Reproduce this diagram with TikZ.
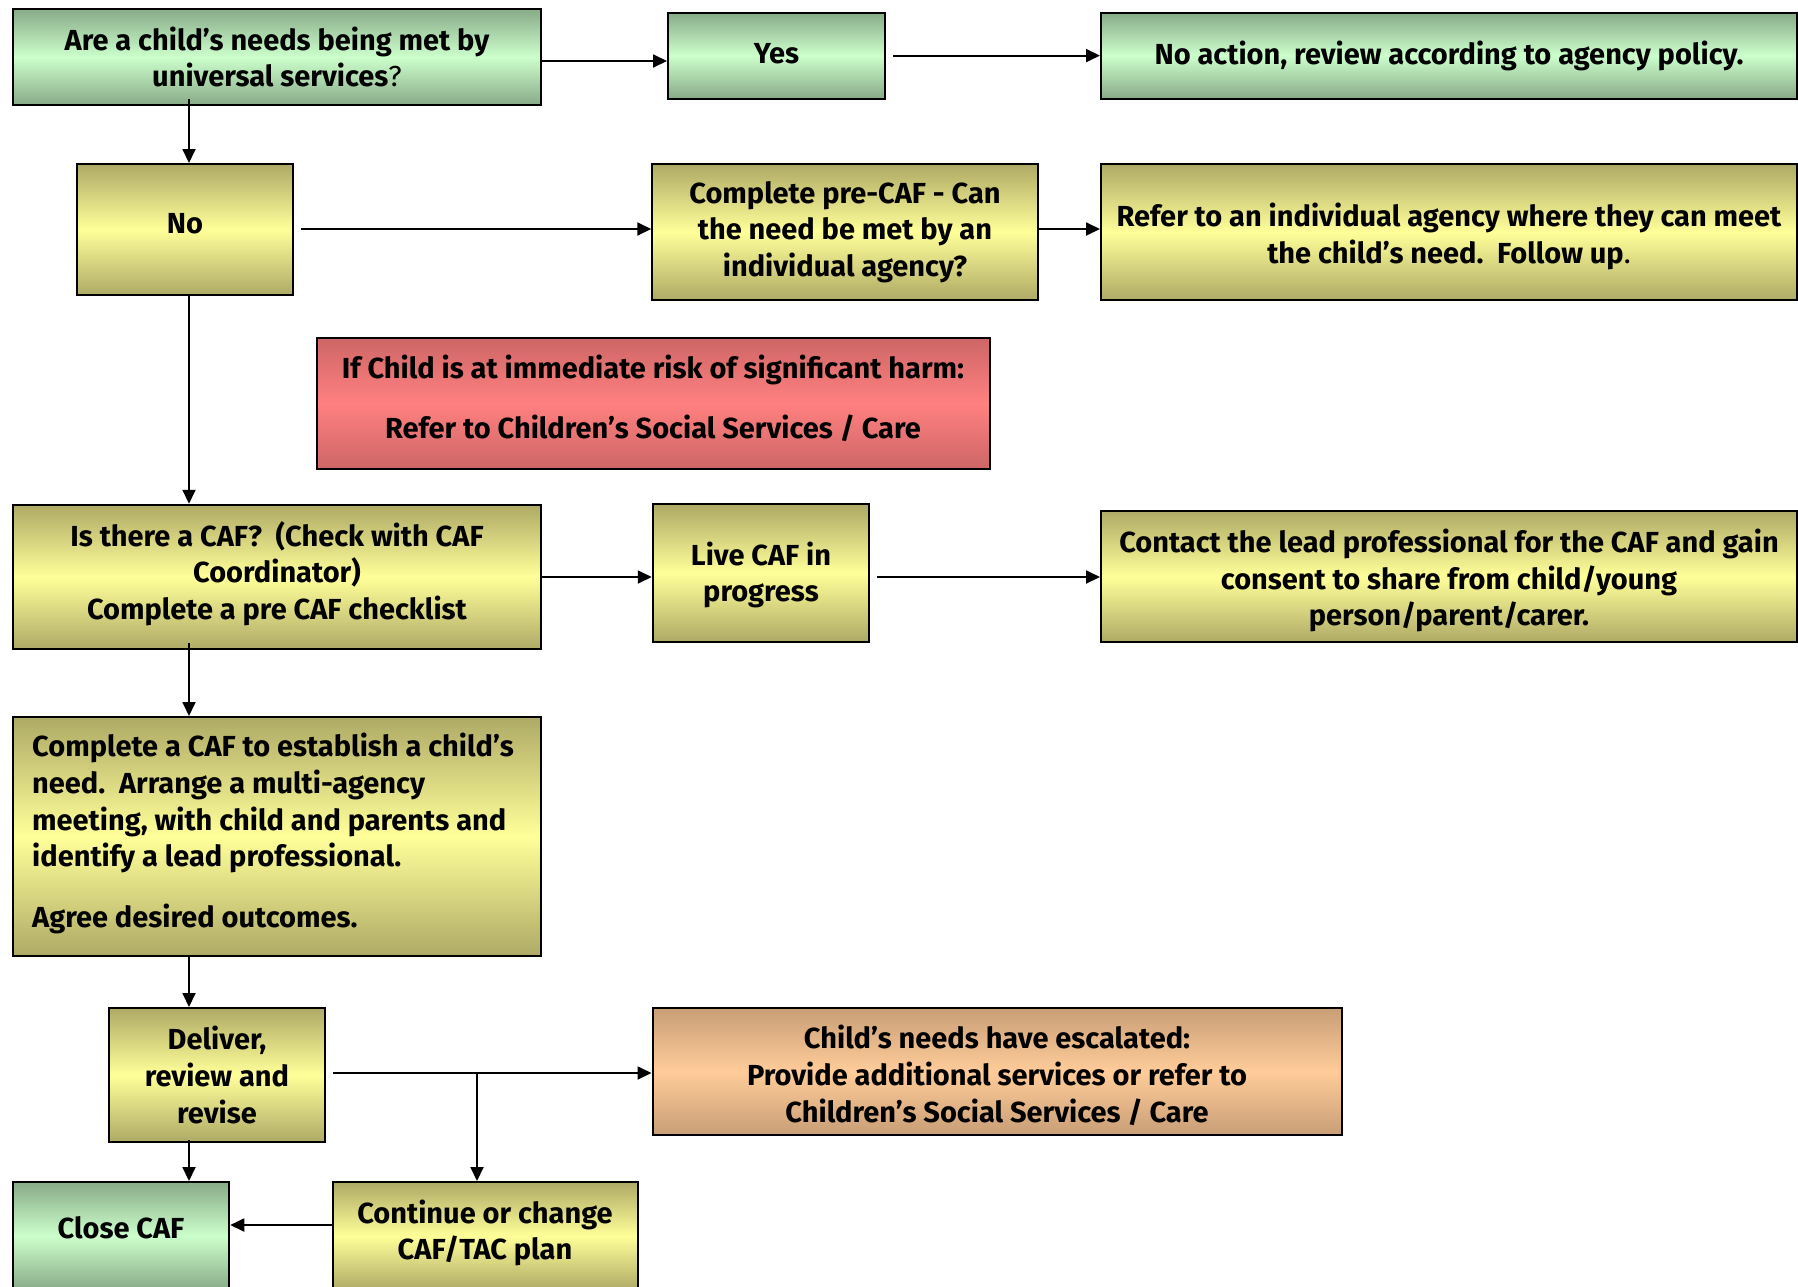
\documentclass[tikz,border=0pt]{standalone}
\usepackage{fontspec}
\setmainfont{Fira Sans}
\usetikzlibrary{arrows.meta}
\definecolor{gEdge}{RGB}{136,170,136}
\definecolor{gMid}{RGB}{204,255,204}
\definecolor{yEdge}{RGB}{174,170,102}
\definecolor{yMid}{RGB}{255,255,153}
\definecolor{rEdge}{RGB}{206,102,102}
\definecolor{rMid}{RGB}{255,128,128}
\definecolor{oEdge}{RGB}{200,158,118}
\definecolor{oMid}{RGB}{255,204,153}
\newcommand\boxfont{\fontsize{29}{36.7}\selectfont\bfseries}
\begin{document}
\begin{tikzpicture}[x=1pt,y=-1pt,
  box/.style={draw=black, line width=2pt, rectangle, inner sep=0pt, align=center,
              font=\boxfont, text=black},
  txt/.style={inner sep=0pt, align=center, font=\boxfont, text=black},
  gbox/.style={box, top color=gEdge, bottom color=gEdge, middle color=gMid},
  ybox/.style={box, top color=yEdge, bottom color=yEdge, middle color=yMid},
  rbox/.style={box, top color=rEdge, bottom color=rEdge, middle color=rMid},
  obox/.style={box, top color=oEdge, bottom color=oEdge, middle color=oMid},
  arr/.style={-{Triangle[length=14pt,width=13pt]}, line width=1.8pt, draw=black}
]
\useasboundingbox (0,0) rectangle (1798,1286);
\clip (0,0) rectangle (1798,1286);
\fill[white] (0,0) rectangle (1798,1286);

% row 1
\node[gbox, minimum width=528pt, minimum height=96pt] (A) at (277,57)
  {Are a child’s needs being met by\\universal services{\mdseries ?}};
\node[gbox, minimum width=217pt, minimum height=86pt] (Yes) at (776.5,55.6) {};
\node[txt] (YesT) at (776.5,53.6) {Yes};
\node[gbox, minimum width=696pt, minimum height=86pt] (NoAct) at (1449,55.6)
  {No action, review according to agency policy.};

% row 2
\node[ybox, minimum width=216.5pt, minimum height=131pt] (No) at (185,229.5) {};
\node[txt] (NoT) at (185,223.5) {No};
\node[ybox, minimum width=385.5pt, minimum height=136pt] (Pre) at (845,232)
  {Complete pre-CAF - Can\\the need be met by an\\individual agency?};
\node[ybox, minimum width=696pt, minimum height=136pt] (Refer) at (1449,232) {};
\node[txt] (ReferT) at (1449,236.5)
  {Refer to an individual agency where they can meet\\the child’s need.\ \ Follow up{\mdseries .}};

% red
\node[rbox, minimum width=673pt, minimum height=131pt] (Risk) at (653,403.5) {};
\node[txt] (RiskT) at (653,398.5)
  {If Child is at immediate risk of significant harm:\\[23pt]Refer to Children’s Social Services / Care};

% row 3
\node[ybox, minimum width=528pt, minimum height=144.5pt] (Is) at (277,577) {};
\node[txt] (IsT) at (277,573.5)
  {Is there a CAF?\ \ (Check with CAF\\Coordinator)\\Complete a pre CAF checklist};
\node[ybox, minimum width=216.5pt, minimum height=137.5pt] (Live) at (761,573) {};
\node[txt] (LiveT) at (761,575) {Live CAF in\\progress};
\node[ybox, minimum width=696pt, minimum height=131pt] (Contact) at (1449,576.5) {};
\node[txt] (ContactT) at (1449,580.5)
  {Contact the lead professional for the CAF and gain\\consent to share from child/young\\person/parent/carer.};

% complete CAF
\node[ybox, minimum width=528pt, minimum height=239pt] (Comp) at (277,836.5) {};
\node[txt, anchor=west, align=left] (CompT) at ([xshift=20pt,yshift=3pt]Comp.west)
  {Complete a CAF to establish a child’s\\need.\ \ Arrange a multi-agency\\meeting,\ with child and parents and\\identify a lead professional.\\[24pt]Agree desired outcomes.};

% deliver row
\node[ybox, minimum width=216.5pt, minimum height=134pt] (Del) at (217,1075)
  {Deliver,\\review and\\revise};
\node[obox, minimum width=689pt, minimum height=127pt] (Esc) at (997,1071.5) {};
\node[txt] (EscT) at (997,1075.5)
  {Child’s needs have escalated:\\Provide additional services or refer to\\Children’s Social Services / Care};

% bottom row
\node[gbox, minimum width=216.5pt, minimum height=108pt] (Close) at (121,1236) {};
\node[txt] (CloseT) at (121,1228) {Close CAF};
\node[ybox, minimum width=305pt, minimum height=108pt] (Cont) at (485,1236) {};
\node[txt] (ContT) at (485,1233) {Continue or change\\CAF/TAC plan};

% connectors
\draw[arr] (A.east |- 0,61) -- (Yes.west |- 0,61);
\draw[arr, shorten <=7pt] (Yes.east) -- (NoAct.west |- Yes.east);
\draw[arr] ([yshift=7pt]A.south -| 189,0) -- (No.north -| 189,0);
\draw[arr, shorten <=7pt] (No.east |- 0,229) -- (Pre.west |- 0,229);
\draw[arr] (Pre.east |- 0,229) -- (Refer.west |- 0,229);
\draw[arr] (No.south -| 189,0) -- (Is.north -| 189,0);
\draw[arr] (Is.east |- 0,577) -- (Live.west |- 0,577);
\draw[arr, shorten <=7pt] (Live.east |- 0,577) -- (Contact.west |- 0,577);
\draw[arr] ([yshift=7pt]Is.south -| 189,0) -- (Comp.north -| 189,0);
\draw[arr] (Comp.south -| 189,0) -- (Del.north -| 189,0);
\draw[arr, shorten <=7pt] (Del.east |- 0,1073) -- (Esc.west |- 0,1073);
\coordinate (br) at (477,1073);
\draw[arr] (br) -- (Cont.north -| br);
\draw[arr] ([yshift=3pt]Del.south -| 189,0) -- (Close.north -| 189,0);
\draw[arr] (Cont.west |- 0,1225) -- (Close.east |- 0,1225);
\end{tikzpicture}
\end{document}
